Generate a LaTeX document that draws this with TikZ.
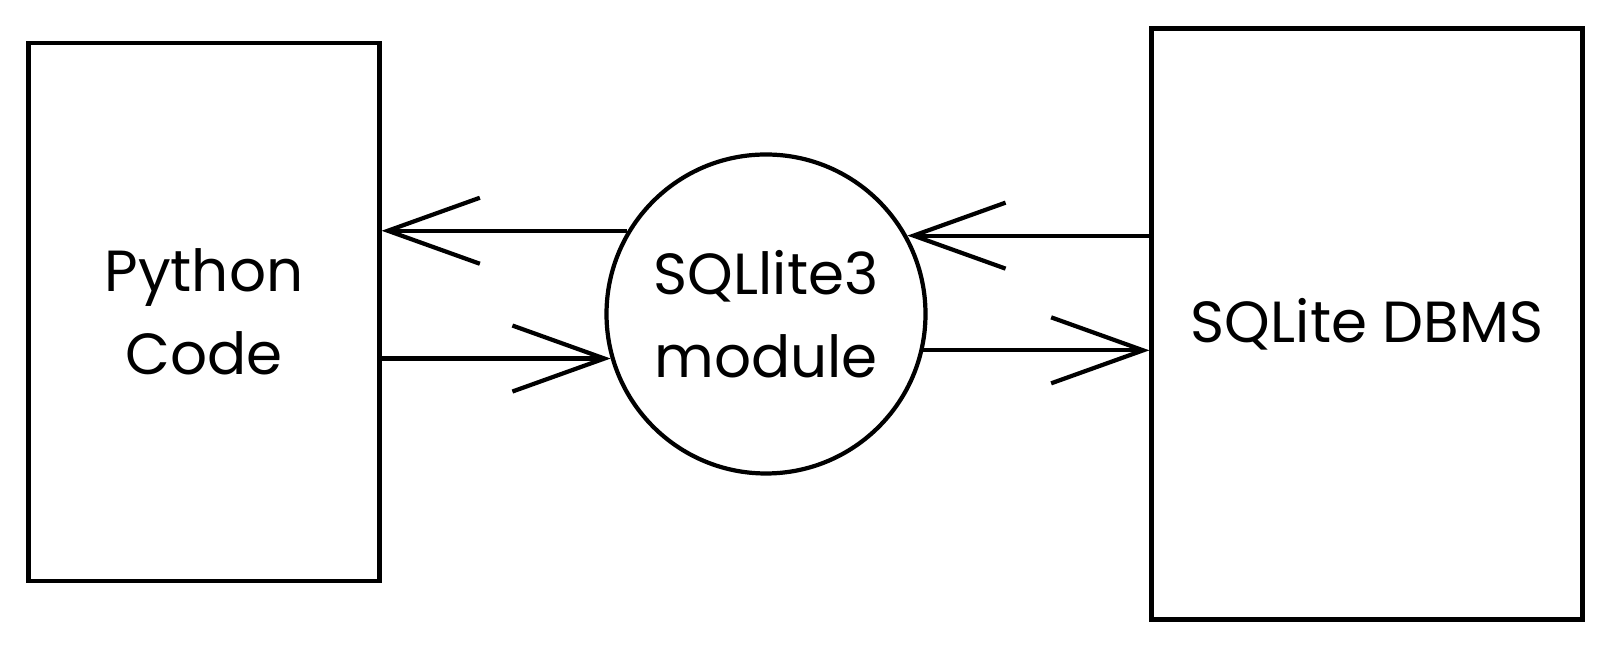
\documentclass[tikz,border=0pt]{standalone}
\usepackage{fontspec}
\setmainfont{Poppins}
\usetikzlibrary{positioning, arrows.meta, calc}
\tikzset{
    block/.style={draw, line width=1.2pt, minimum width=3.51cm, minimum height=5.38cm, align=center, font=\fontsize{16.5}{23.6}\selectfont},
    dbms/.style={block, minimum width=4.31cm, minimum height=5.91cm},
    module/.style={circle, draw, line width=1.2pt, minimum size=3.19cm, inner sep=0pt, align=center, font=\fontsize{16.5}{23.6}\selectfont},
    flow/.style={line width=1.2pt, -{Straight Barb[length=0.92cm, width=0.66cm, line width=1.2pt]}}
}
\begin{document}
\begin{tikzpicture}[x=0.1mm, y=-0.1mm]
    \useasboundingbox (0,0) rectangle (1612,650);
    % --- Nodes ---
    \node (py) [block] at (204,312) {Python\\Code};
    \node (sq) [module] at (766,314) {SQLlite3\\module};
    \node (db) [dbms] at (1367,324) {SQLite DBMS};

    % --- Flows ---
    \draw[flow] (sq.149) -- (sq.149 -| py.east);
    \draw[flow] (sq.196 -| py.east) -- (sq.196);
    \draw[flow] (sq.29 -| db.west) -- (sq.29);
    \draw[flow] (sq.-13) -- (sq.-13 -| db.west);
\end{tikzpicture}
\end{document}
